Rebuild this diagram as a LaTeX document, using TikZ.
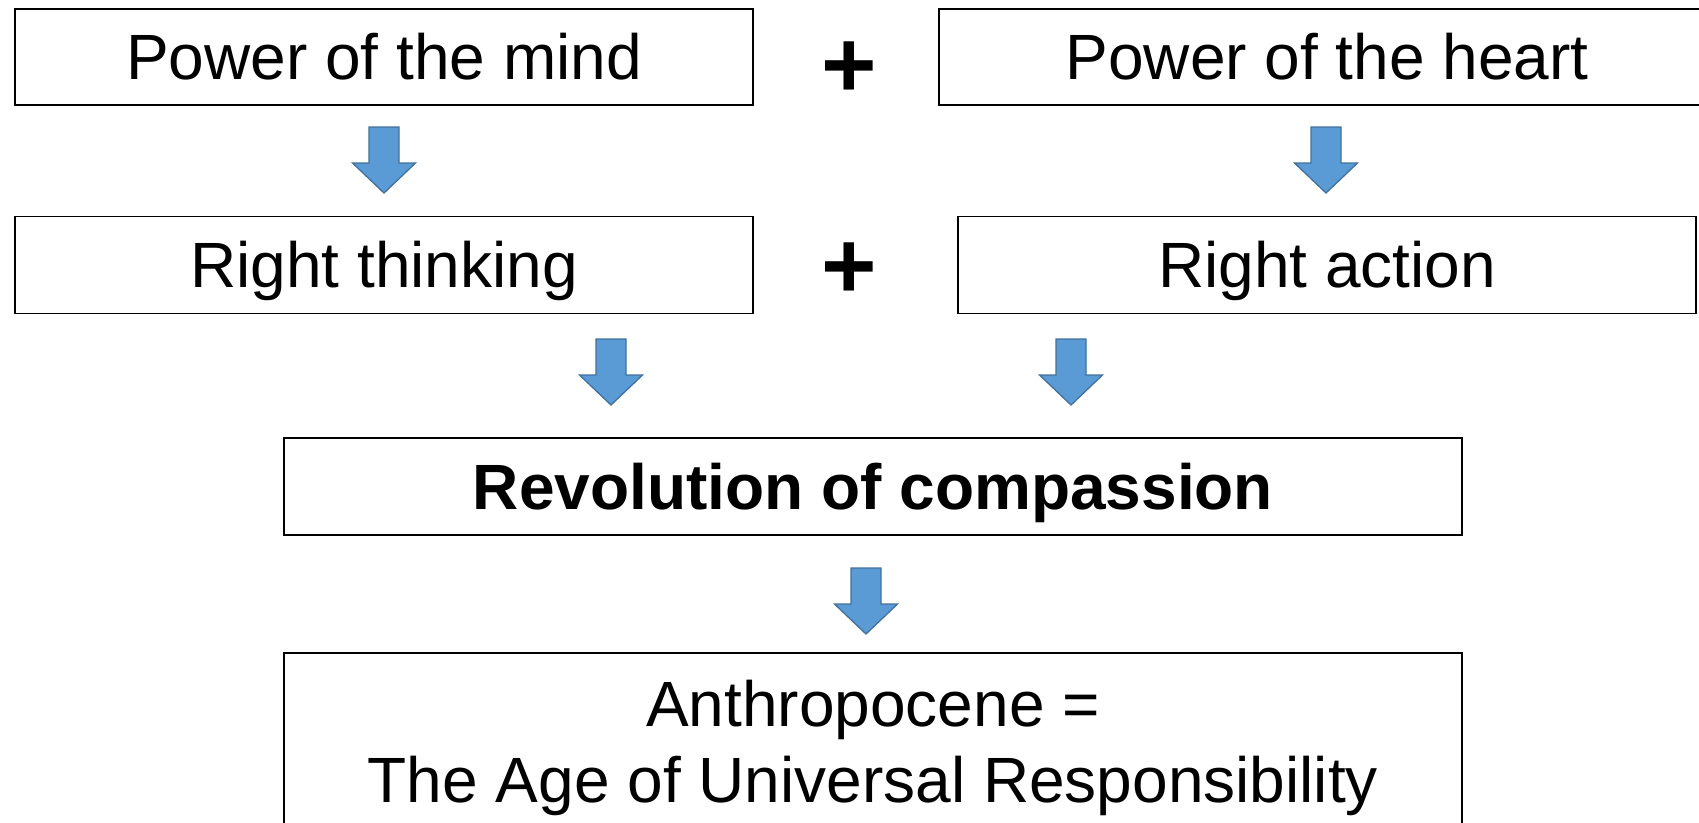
\documentclass[tikz,border=0pt]{standalone}
\usepackage{fontspec}
\setmainfont{Liberation Sans}
\definecolor{arrowfill}{HTML}{5B9BD5}
\definecolor{arrowline}{HTML}{41719C}
\tikzset{
  box/.style={draw=black, line width=1.6pt, fill=white, rectangle, inner sep=0pt,
    text height=45pt, text depth=0pt, font=\fontsize{64}{76}\selectfont},
  plussign/.style={font=\fontsize{95}{95}\bfseries\selectfont, inner sep=0pt},
  blockarrow/.style={fill=arrowfill, draw=arrowline, line width=1.3pt, line join=miter}
}
\newcommand{\bluearrow}[1]{%
  \draw[blockarrow] ($(#1)+(-15,0)$) -- ($(#1)+(15,0)$) -- ($(#1)+(15,36)$) -- ($(#1)+(31.5,36)$)
    -- ($(#1)+(0,66)$) -- ($(#1)+(-31.5,36)$) -- ($(#1)+(-15,36)$) -- cycle;}
\usetikzlibrary{calc}
\begin{document}
\begin{tikzpicture}[x=1pt,y=-1pt]
\useasboundingbox[fill=white] (0,0) rectangle (1699,822);
\node[box, minimum width=738pt, minimum height=96pt] (mind) at (384,57) {Power of the mind};
\node[box, minimum width=776pt, minimum height=96pt] (heart) at (1327,57) {Power of the heart};
\node[box, minimum width=738pt, minimum height=97pt] (think) at (384,265) {Right thinking};
\node[box, minimum width=738pt, minimum height=97pt] (act) at (1327,265) {Right action};
\node[box, minimum width=1178pt, minimum height=97pt, font=\fontsize{64}{76}\bfseries\selectfont] (rev) at (873,486.5) {Revolution of compassion};
\node[draw=black, line width=1.6pt, minimum width=1178pt, minimum height=220pt, inner sep=0pt] (age) at (873,763) {};
\node[font=\fontsize{64}{76}\selectfont, align=center, anchor=base, inner sep=0pt] (agetext) at (873,802) {Anthropocene =\\The Age of Universal Responsibility};
\node[plussign] (plus1) at (849,70) {+};
\node[plussign] (plus2) at (849,271) {+};
\coordinate (a1) at (384,127);
\coordinate (a2) at (1326,127);
\coordinate (a3) at (611,339);
\coordinate (a4) at (1071,339);
\coordinate (a5) at (866,568);
\bluearrow{a1}
\bluearrow{a2}
\bluearrow{a3}
\bluearrow{a4}
\bluearrow{a5}
\end{tikzpicture}
\end{document}
